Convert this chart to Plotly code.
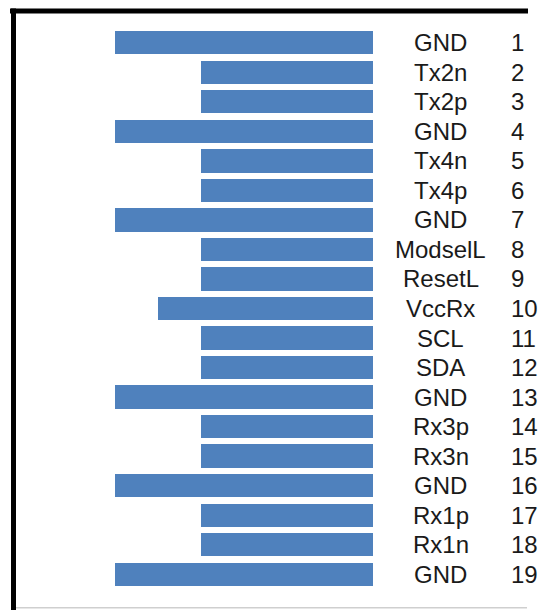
import plotly.graph_objects as go

pins = list(range(1, 20))
names = ["GND", "Tx2n", "Tx2p", "GND", "Tx4n", "Tx4p", "GND", "ModselL", "ResetL",
         "VccRx", "SCL", "SDA", "GND", "Rx3p", "Rx3n", "GND", "Rx1p", "Rx1n", "GND"]
lengths = [6, 4, 4, 6, 4, 4, 6, 4, 4, 5, 4, 4, 6, 4, 4, 6, 4, 4, 6]

W, H = 547, 610
PL, PR = 0, 373          # plot area horizontal pixel extent
PT, PB = 27.6, 589.3     # plot area vertical pixel extent
UNIT = 43.0              # px per length unit


def px(xp):
    return (xp - PL) / (PR - PL)


def py(yp):
    return (PB - yp) / (PB - PT)


fig = go.Figure(go.Bar(
    y=pins, x=lengths, orientation="h",
    marker=dict(color="#4F81BD", line=dict(width=0)),
    width=0.79, hoverinfo="skip",
))

FONT = dict(family="Liberation Sans, Arial", size=24, color="#1a1a1a")
annotations = []
for p, n in zip(pins, names):
    annotations.append(dict(x=px(441), y=p, xref="paper", yref="y", text=n,
                            showarrow=False, xanchor="center", yanchor="middle", font=FONT))
    annotations.append(dict(x=px(509), y=p, xref="paper", yref="y", text=str(p),
                            showarrow=False, xanchor="left", yanchor="middle", font=FONT))

shapes = [
    dict(type="line", xref="paper", yref="paper", x0=px(10), x1=px(528), y0=py(10.5), y1=py(10.5),
         line=dict(color="black", width=5)),
    dict(type="line", xref="paper", yref="paper", x0=px(13.5), x1=px(13.5), y0=py(8), y1=py(612),
         line=dict(color="black", width=5)),
    dict(type="line", xref="paper", yref="paper", x0=px(16), x1=px(527), y0=py(608), y1=py(608),
         line=dict(color="#cfcfcf", width=1.5)),
]

fig.update_layout(
    width=W, height=H,
    margin=dict(l=PL, r=W - PR, t=PT, b=H - PB, pad=0),
    paper_bgcolor="white", plot_bgcolor="white",
    showlegend=False,
    xaxis=dict(range=[(PR - PL) / UNIT, 0], visible=False, fixedrange=True),
    yaxis=dict(range=[19.5, 0.5], visible=False, fixedrange=True),
    annotations=annotations,
    shapes=shapes,
    bargap=0,
)

fig.write_html("out.html", config={"displayModeBar": False},
               post_script="document.body.style.margin='0';document.body.style.overflow='hidden';")
